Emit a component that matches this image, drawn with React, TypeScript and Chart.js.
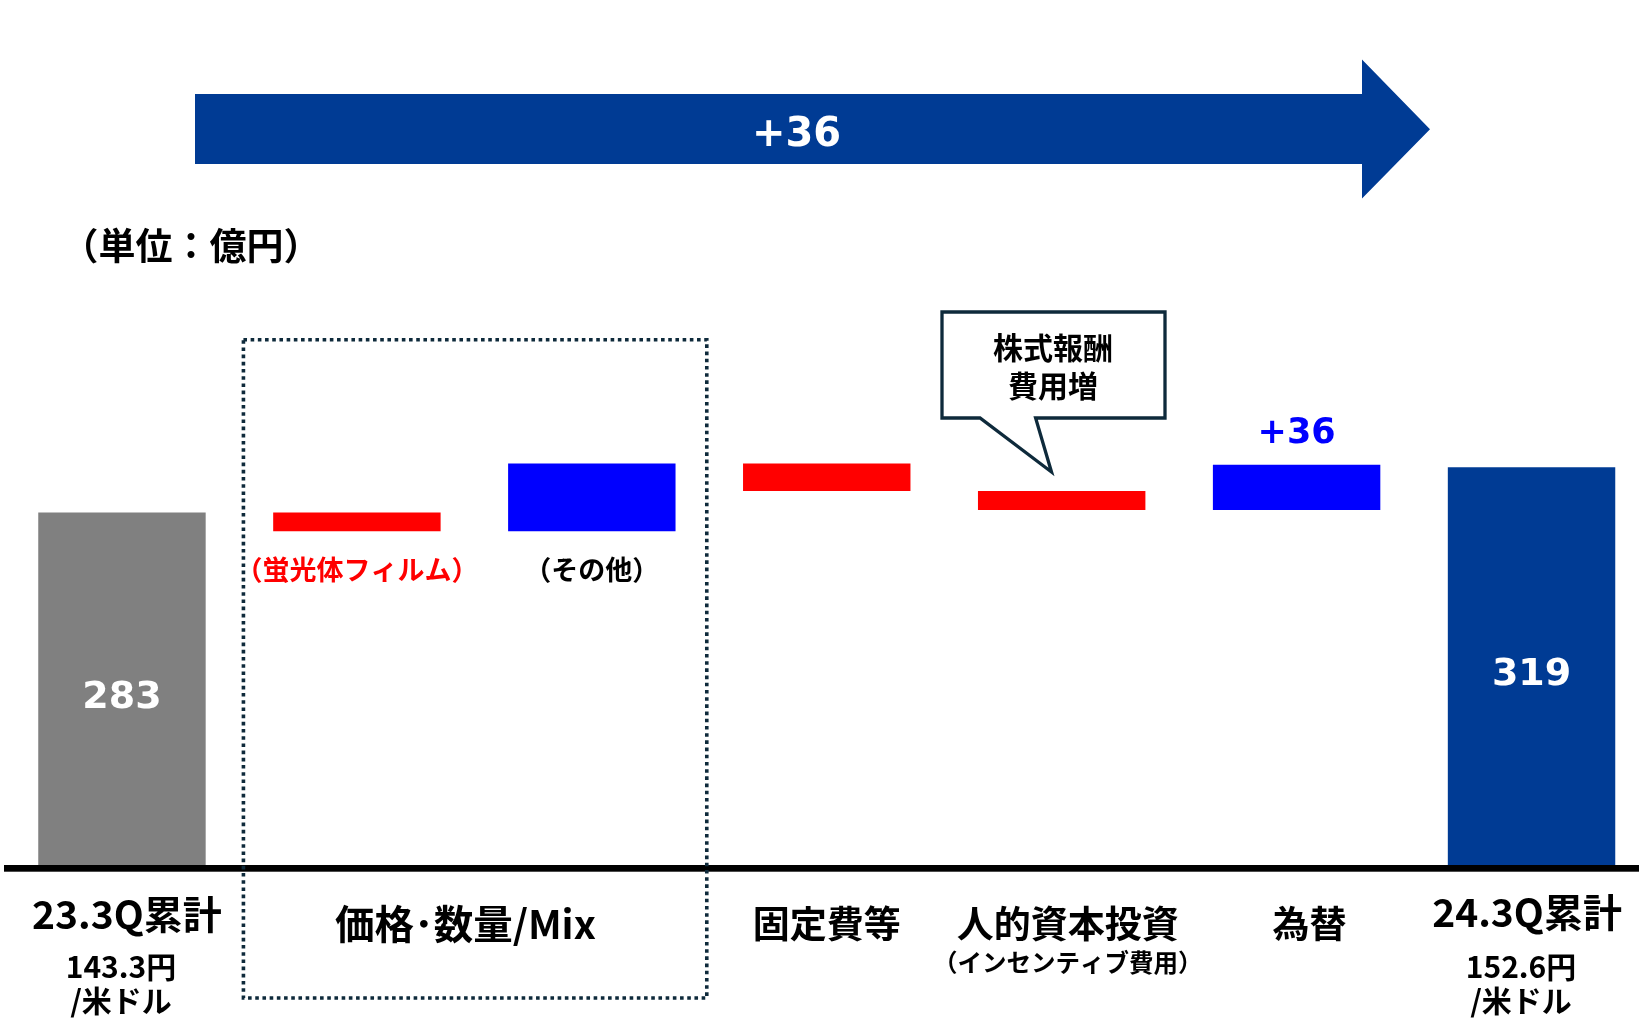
import React, { useEffect, useRef } from 'react';
import { Chart, registerables } from 'chart.js';

Chart.register(...registerables);

// ---- data ----
const categories = ['23.3Q累計', '蛍光体フィルム', 'その他', '固定費等', '人的資本投資', '為替', '24.3Q累計'];
const barRanges: [number, number][] = [
  [0, 283],
  [268, 283],
  [268, 322],
  [300, 322],
  [285, 300],
  [285, 321],
  [0, 319],
];
const barColors = ['#808080', '#FF0000', '#0000FF', '#FF0000', '#FF0000', '#0000FF', '#003B94'];
const totalBarIndexes = [0, 6];
const deltaLabelIndex = 5;
const deltaLabel = '+36';
const totalChangeLabel = '+36';
const unitLabel = '（単位：億円）';
const subLabels = ['（蛍光体フィルム）', '（その他）'];
const subLabelColors = ['#FF0000', '#000000'];
const calloutLines = ['株式報酬', '費用増'];
const axisMain = ['23.3Q累計', '価格･数量/Mix', '固定費等', '人的資本投資', '為替', '24.3Q累計'];
const axisSub: string[][] = [['143.3円', '/米ドル'], [], [], ['（インセンティブ費用）'], [], ['152.6円', '/米ドル']];

const NAVY = '#003B94';
const LINE = '#0E2A3B';
const CJK = '"Noto Sans CJK JP", "Noto Sans", sans-serif';
const NUM = '"DejaVu Sans", Verdana, sans-serif';

const annot = {
  id: 'annot',
  afterDatasetsDraw(chart: any) {
    const { ctx, chartArea, scales } = chart;
    const x = scales.x;
    const y = scales.y;
    const cx = (i: number) => x.getPixelForValue(i);
    const cw = (chartArea.right - chartArea.left) / categories.length;
    const base = y.getPixelForValue(0);
    ctx.save();

    // baseline
    ctx.fillStyle = '#000';
    ctx.fillRect(chartArea.left - 0.5, base - 3, chartArea.right - chartArea.left + 2, 6.7);

    ctx.textAlign = 'center';
    ctx.textBaseline = 'middle';

    // values inside total bars
    ctx.fillStyle = '#FFFFFF';
    ctx.font = `bold 38px ${NUM}`;
    totalBarIndexes.forEach((i) => {
      const [lo, hi] = barRanges[i];
      const my = (y.getPixelForValue(lo) + y.getPixelForValue(hi)) / 2 + 7.5;
      ctx.fillText(String(hi), cx(i), my);
    });

    // delta label
    ctx.fillStyle = '#0000FF';
    ctx.font = `bold 35px ${NUM}`;
    ctx.fillText(deltaLabel, cx(deltaLabelIndex), y.getPixelForValue(barRanges[deltaLabelIndex][1]) - 31);

    // sub labels under bar 1 & 2
    ctx.font = `bold 27px ${CJK}`;
    [1, 2].forEach((i, k) => {
      ctx.fillStyle = subLabelColors[k];
      ctx.fillText(subLabels[k], cx(i), y.getPixelForValue(barRanges[i][0]) + 38);
    });

    // dotted rectangle
    const bLeft = chartArea.left + cw + 4;
    const bRight = chartArea.left + 3 * cw - 2.5;
    ctx.strokeStyle = LINE;
    ctx.lineWidth = 3.6;
    ctx.setLineDash([3.6, 3.6]);
    ctx.strokeRect(bLeft, 339.7, bRight - bLeft, 998 - 339.7);
    ctx.setLineDash([]);

    // callout
    ctx.lineWidth = 3.3;
    ctx.lineJoin = 'miter';
    ctx.beginPath();
    ctx.moveTo(942, 312);
    ctx.lineTo(1165, 312);
    ctx.lineTo(1165, 418);
    ctx.lineTo(1035.6, 418);
    ctx.lineTo(1051.5, 472);
    ctx.lineTo(980, 418);
    ctx.lineTo(942, 418);
    ctx.closePath();
    ctx.fillStyle = '#FFFFFF';
    ctx.fill();
    ctx.stroke();
    ctx.fillStyle = '#000';
    ctx.font = `bold 30px ${CJK}`;
    ctx.fillText(calloutLines[0], 1053, 348);
    ctx.fillText(calloutLines[1], 1053, 386);

    // big arrow
    ctx.fillStyle = NAVY;
    ctx.beginPath();
    ctx.moveTo(195, 94);
    ctx.lineTo(1362, 94);
    ctx.lineTo(1362, 59.6);
    ctx.lineTo(1430, 129.3);
    ctx.lineTo(1362, 198.6);
    ctx.lineTo(1362, 164);
    ctx.lineTo(195, 164);
    ctx.closePath();
    ctx.fill();
    ctx.fillStyle = '#FFFFFF';
    ctx.font = `bold 40px ${NUM}`;
    ctx.fillText(totalChangeLabel, 796.5, 135.5);

    // unit label
    ctx.fillStyle = '#000';
    ctx.font = `bold 37px ${CJK}`;
    ctx.fillText(unitLabel, 191, 246);

    // axis labels
    const axisX = [cx(0) + 5, (cx(1) + cx(2)) / 2 - 9, cx(3), cx(4) + 6, cx(5) + 13, cx(6) - 4.5];
    const axisY = [914, 924, 924, 924, 924, 912.5];
    const axisFont = [39, 39.5, 37, 37, 37, 39];
    axisMain.forEach((t, i) => {
      ctx.font = `bold ${axisFont[i]}px ${CJK}`;
      ctx.fillText(t, axisX[i], axisY[i]);
    });
    axisSub.forEach((lines, i) => {
      if (!lines.length) return;
      if (lines.length === 1) {
        ctx.font = `bold 24.5px ${CJK}`;
        ctx.fillText(lines[0], axisX[i], 962.5);
      } else {
        ctx.font = `bold 30px ${CJK}`;
        ctx.fillText(lines[0], axisX[i] - 6, 967);
        ctx.fillText(lines[1], axisX[i] - 6, 1001);
      }
    });

    ctx.restore();
  },
};

export default function App() {
  const ref = useRef<HTMLCanvasElement>(null);
  useEffect(() => {
    document.body.style.margin = '0';
    document.body.style.overflow = 'hidden';
    document.documentElement.style.overflow = 'hidden';
    const chart = new Chart(ref.current as HTMLCanvasElement, {
      type: 'bar',
      data: {
        labels: categories,
        datasets: [
          {
            data: barRanges as any,
            backgroundColor: barColors,
            borderWidth: 0,
            barPercentage: 0.7127,
            categoryPercentage: 1,
          },
        ],
      },
      options: {
        responsive: false,
        animation: false,
        layout: { padding: { left: 4.5, right: 0, top: 0, bottom: 155 } },
        scales: {
          x: { display: false },
          y: { display: false, min: 0, max: 690.8 },
        },
        plugins: { legend: { display: false }, tooltip: { enabled: false } },
      },
      plugins: [annot],
    });
    return () => chart.destroy();
  }, []);
  return (
    <div style={{ width: 1649, height: 1023, overflow: 'hidden' }}>
      <canvas ref={ref} width={1649} height={1023} style={{ display: 'block', width: 1649, height: 1023 }} />
    </div>
  );
}
